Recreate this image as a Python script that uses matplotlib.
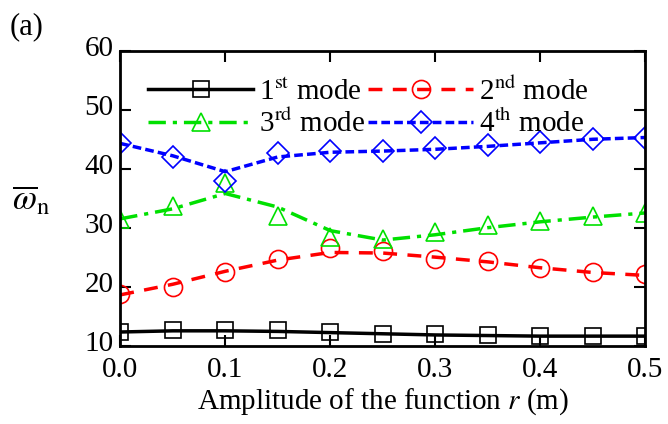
import matplotlib.pyplot as plt
import matplotlib.transforms as mtransforms

plt.rcParams['font.family'] = ['Liberation Serif', 'DejaVu Serif']
plt.rcParams['mathtext.fontset'] = 'stix'

r = [0.0, 0.05, 0.1, 0.15, 0.2, 0.25, 0.3, 0.35, 0.4, 0.45, 0.5]

# marker values
mode1 = [12.3, 12.6, 12.7, 12.6, 12.3, 12.0, 11.9, 11.8, 11.7, 11.7, 11.6]
mode2 = [18.8, 20.0, 22.5, 24.7, 26.5, 26.0, 24.7, 24.4, 23.2, 22.5, 22.1]
mode3 = [31.5, 33.7, 37.5, 32.0, 28.5, 28.0, 29.2, 30.5, 31.2, 32.0, 32.5]
mode4 = [44.3, 42.0, 38.0, 42.7, 43.0, 43.0, 43.5, 44.0, 44.5, 45.0, 45.3]

# fitted curve values (line drawn separately from markers)
line1 = [12.3, 12.5, 12.5, 12.4, 12.2, 12.0, 11.8, 11.7, 11.6, 11.6, 11.6]
line2 = [18.6, 20.4, 22.6, 24.5, 25.8, 25.7, 25.0, 24.2, 23.2, 22.4, 21.9]
line3 = [31.5, 33.2, 35.8, 33.5, 29.5, 27.9, 28.8, 30.0, 31.0, 31.8, 32.5]
line4 = [44.3, 42.2, 39.5, 42.0, 42.8, 43.0, 43.3, 43.8, 44.4, 45.0, 45.3]

labels = ['1$^{\\rm st}$ mode', '2$^{\\rm nd}$ mode',
          '3$^{\\rm rd}$ mode', '4$^{\\rm th}$ mode']
colors = ['black', 'red', '#00e000', 'blue']
markers = ['s', 'o', '^', 'D']
styles = ['-', (0, (4, 3)), (0, (5, 2, 1.2, 2)), (0, (2.5, 1.2))]
msizes = [12, 13, 13, 11]

fig = plt.figure(figsize=(6.68, 4.24), dpi=100)
ax = fig.add_axes([0.18, 0.185, 0.786, 0.695])

handles = []
for ys, ls_, c, m, st, ms, lab in zip([mode1, mode2, mode3, mode4],
                                       [line1, line2, line3, line4],
                                       colors, markers, styles, msizes, labels):
    ax.plot(r, ls_, color=c, linestyle=st, linewidth=2.5)
    ax.plot(r, ys, linestyle='none', marker=m, markersize=ms,
            markerfacecolor='none', markeredgecolor=c, markeredgewidth=1.2)
    h, = ax.plot([], [], color=c, linestyle=st, linewidth=2.5, marker=m,
                 markersize=ms, markerfacecolor='none',
                 markeredgecolor=c, markeredgewidth=1.2, label=lab)
    handles.append(h)

ax.set_xlim(0, 0.5)
ax.set_ylim(10, 60)
ax.set_xticks([0.0, 0.1, 0.2, 0.3, 0.4, 0.5])
ax.set_yticks([10, 20, 30, 40, 50, 60])
ax.tick_params(direction='in', top=True, right=True, length=8, width=1.5,
               labelsize=21)
ax.tick_params(axis='x', pad=8)
ax.tick_params(axis='y', pad=5)
for s in ax.spines.values():
    s.set_linewidth(2)

# y tick labels sit a little above their ticks, as in the original
shift = mtransforms.ScaledTranslation(0, 3.5 / 72, fig.dpi_scale_trans)
for lbl in ax.get_yticklabels():
    lbl.set_transform(lbl.get_transform() + shift)

ax.set_xlabel('Amplitude of the function $r$ (m)', fontsize=21, labelpad=3)
ax.set_ylabel(r'$\overline{\omega}_{\rm n}$', fontsize=25, rotation=0,
              va='center', ha='center')
ax.yaxis.set_label_coords(-0.17, 0.49)

# row-major legend order: 1st, 2nd / 3rd, 4th
order = [0, 2, 1, 3]
ax.legend([handles[i] for i in order], [labels[i] for i in order],
          ncol=2, loc='upper left', bbox_to_anchor=(0.02, 0.97), frameon=False,
          fontsize=21, handlelength=3.6, handletextpad=0.2, columnspacing=0.1,
          labelspacing=0.15, borderaxespad=0.2)

fig.text(0.015, 0.92, '(a)', fontsize=22)

fig.savefig('out.png', dpi=100)
